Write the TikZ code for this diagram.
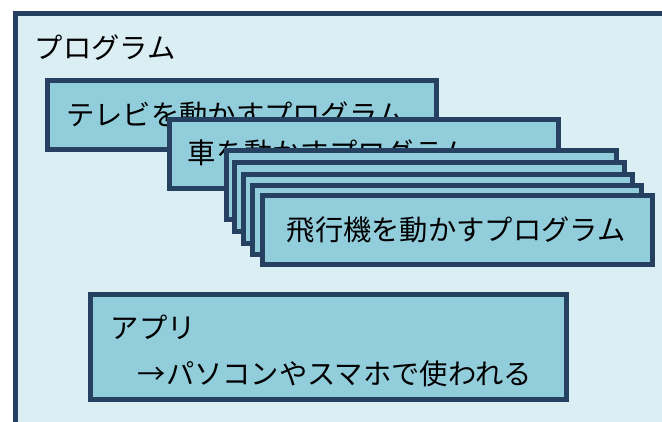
\documentclass[tikz,border=0pt]{standalone}
\usepackage{fontspec}
\newfontfamily\jpfont{Noto Sans CJK JP}
\definecolor{bdr}{HTML}{254061}
\definecolor{outerfill}{HTML}{DBEEF4}
\definecolor{innerfill}{HTML}{92CDDC}
\tikzset{
  outerbox/.style={draw=bdr, fill=outerfill, line width=5pt},
  progbox/.style={draw=bdr, fill=innerfill, line width=5pt, inner sep=0pt, anchor=north west, minimum width=389.5pt, minimum height=69pt},
  lbl/.style={anchor=west, inner sep=0pt, text=black, font=\jpfont\fontsize{28.3}{34}\selectfont}
}
\begin{document}
\begin{tikzpicture}[x=1pt, y=-1pt]
\useasboundingbox (0,0) rectangle (662,421);
\clip (0,0) rectangle (662,421);
\node[outerbox, inner sep=0pt, anchor=north west, minimum width=700pt, minimum height=430pt] (prog) at (12.5,10.5) {};
\node[lbl] (progt) at (34.5,48) {プログラム};
\node[progbox] (tv) at (44.5,77.5) {};
\node[lbl] (tvt) at (66,114.5) {テレビを動かすプログラム};
\node[progbox] (car) at (166.5,116.5) {};
\node[lbl] (cart) at (187.5,152.5) {車を動かすプログラム};
\node[progbox] (pa) at (224.2,148.2) {};
\node[progbox] (pb) at (232,160) {};
\node[progbox] (pc) at (240.8,171.5) {};
\node[progbox] (pd) at (249.5,182.5) {};
\node[progbox] (plane) at (260.2,192.5) {};
\node[lbl] (planet) at (286.5,229.5) {飛行機を動かすプログラム};
\node[progbox, minimum width=475.8pt, minimum height=105.3pt] (app) at (88.2,291.5) {};
\node[lbl] (appt) at (110.5,327.5) {アプリ};
\node[lbl] (appd) at (137.5,373.5) {→パソコンやスマホで使われる};
\end{tikzpicture}
\end{document}
